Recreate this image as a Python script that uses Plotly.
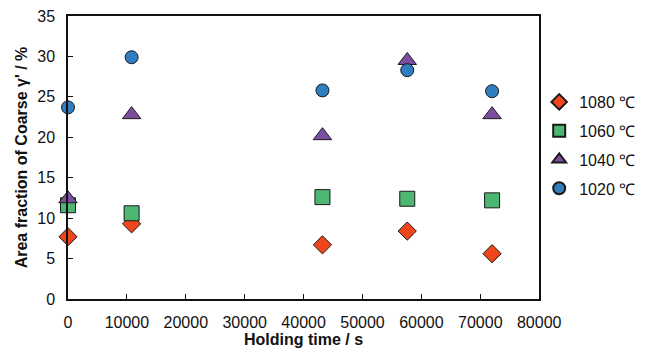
import plotly.graph_objects as go

holding_time = [0, 10800, 43200, 57600, 72000]
series_names = ["1080 ℃", "1060 ℃", "1040 ℃", "1020 ℃"]
area_1080 = [7.7, 9.3, 6.7, 8.4, 5.6]
area_1060 = [11.6, 10.6, 12.6, 12.4, 12.2]
area_1040 = [12.4, 22.8, 20.2, 29.5, 22.8]
area_1020 = [23.7, 29.9, 25.8, 28.3, 25.7]

series_values = [area_1080, area_1060, area_1040, area_1020]
symbols = ["diamond", "square", "triangle-up", "circle"]
colors = ["#F0461E", "#4CB672", "#7D4E9E", "#2F7EC2"]
sizes = [14, 15, 16, 13]

fig = go.Figure()
for name, vals, sym, col, sz in zip(series_names, series_values, symbols, colors, sizes):
    fig.add_trace(go.Scatter(
        x=holding_time, y=vals, mode="markers", name=name, legendgroup=name,
        marker=dict(symbol=sym, color=col, size=sz, line=dict(color="#1a1a1a", width=1)),
        cliponaxis=False,
    ))

font = "Liberation Sans, Arial, sans-serif"
fig.update_layout(
    width=640, height=346,
    margin=dict(l=60, r=101, t=8, b=55),
    paper_bgcolor="white", plot_bgcolor="white",
    font=dict(family=font, size=16, color="#111"),
    showlegend=True,
    legend=dict(xref="container", yref="container", x=0.83, y=0.7775,
                yanchor="top", xanchor="left",
                font=dict(size=16), tracegroupgap=5, itemwidth=30,
                itemsizing="constant",
                bgcolor="rgba(0,0,0,0)"),
    xaxis=dict(range=[0, 80000], dtick=10000, tickformat="d", ticks="inside", ticklen=5,
               tickcolor="#111", showline=True, linecolor="#111", linewidth=1.5,
               mirror=True, showgrid=False, zeroline=False, automargin=False,
               ticklabelstandoff=8, ticklabeloverflow="allow",
               title=dict(text="<b>Holding time / s</b>", font=dict(size=16), standoff=4),
               tickfont=dict(size=16)),
    yaxis=dict(range=[0, 35], dtick=5, ticks="inside", ticklen=5,
               tickcolor="#111", showline=True, linecolor="#111", linewidth=1.5,
               mirror=True, showgrid=False, zeroline=False, automargin=False,
               ticklabelstandoff=8, ticklabeloverflow="allow",
               title=dict(text="<b>Area fraction of Coarse γ' / %</b>", font=dict(size=16), standoff=6),
               tickfont=dict(size=16)),
)

fig.write_html("out.html")
